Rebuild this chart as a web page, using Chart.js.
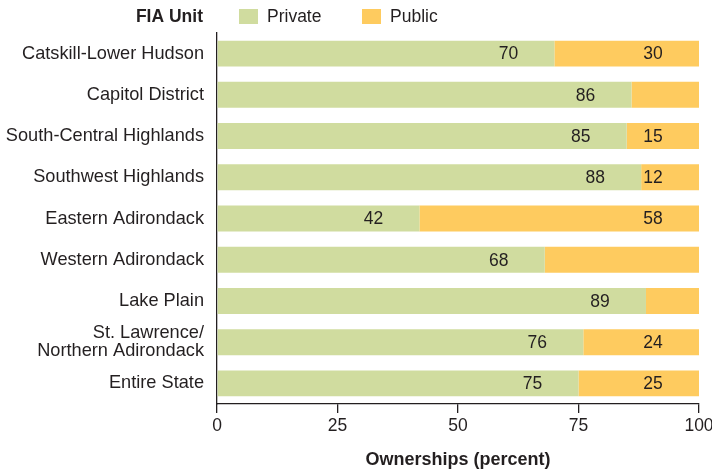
<!DOCTYPE html>
<html>
<head>
<meta charset="utf-8">
<script src="https://cdn.jsdelivr.net/npm/chart.js@4"></script>
<style>
  html, body { margin: 0; padding: 0; background: #ffffff; }
  #wrap { width: 712px; height: 475px; }
</style>
</head>
<body>
<div id="wrap"><canvas id="c" width="712" height="475"></canvas></div>
<script>
// Forest ownership by FIA unit (percent of ownerships)
const units = [
  'Catskill-Lower Hudson',
  'Capitol District',
  'South-Central Highlands',
  'Southwest Highlands',
  'Eastern Adirondack',
  'Western Adirondack',
  'Lake Plain',
  ['St. Lawrence/', 'Northern Adirondack'],
  'Entire State'
];
const privateShare = [70, 86, 85, 88, 42, 68, 89, 76, 75];
const publicShare  = [30, 14, 15, 12, 58, 32, 11, 24, 25];
// which bar segments carry a printed value
const privateLabeled = [true, true, true, true, true, true, true, true, true];
const publicLabeled  = [true, false, true, true, true, false, false, true, true];
const xTicks = [0, 25, 50, 75, 100];

const INK = '#231f20';
const FONT = '"Liberation Sans", Arial, Helvetica, sans-serif';

const valueLabels = {
  id: 'valueLabels',
  afterDatasetsDraw(chart) {
    const ctx = chart.ctx;
    ctx.save();
    ctx.font = '17.5px ' + FONT;
    ctx.fillStyle = INK;
    ctx.textAlign = 'center';
    ctx.textBaseline = 'middle';
    chart.data.datasets.forEach((ds, di) => {
      const meta = chart.getDatasetMeta(di);
      meta.data.forEach((bar, i) => {
        if (!ds.labeled[i]) return;
        ctx.fillText(String(ds.data[i]), bar.x - 46, bar.y + 1);
      });
    });
    ctx.restore();
  }
};

const header = {
  id: 'header',
  afterDraw(chart) {
    const ctx = chart.ctx;
    ctx.save();
    ctx.fillStyle = INK;
    ctx.textBaseline = 'middle';
    ctx.font = 'bold 17.5px ' + FONT;
    ctx.textAlign = 'right';
    ctx.fillText('FIA Unit', 203, 17);
    ctx.font = '17.5px ' + FONT;
    ctx.textAlign = 'left';
    const slots = [239, 362];
    chart.data.datasets.forEach((ds, di) => {
      const x = slots[di];
      ctx.fillStyle = ds.backgroundColor;
      ctx.fillRect(x, 9, 19, 15);
      ctx.fillStyle = INK;
      ctx.fillText(ds.label, x + 28, 17);
    });
    ctx.restore();
  }
};

new Chart(document.getElementById('c'), {
  type: 'bar',
  data: {
    labels: units,
    datasets: [
      { label: 'Private', data: privateShare, labeled: privateLabeled, backgroundColor: '#d0dc9f' },
      { label: 'Public',  data: publicShare,  labeled: publicLabeled,  backgroundColor: '#fecb5f' }
    ]
  },
  options: {
    indexAxis: 'y',
    responsive: false,
    animation: false,
    devicePixelRatio: 1,
    layout: { padding: { top: 33, right: 13, bottom: 0, left: 0 } },
    datasets: { bar: { categoryPercentage: 1, barPercentage: 0.63, borderWidth: 0 } },
    plugins: { legend: { display: false }, tooltip: { enabled: false } },
    scales: {
      x: {
        stacked: true,
        min: 0,
        max: 100,
        afterBuildTicks(scale) { scale.ticks = xTicks.map(v => ({ value: v })); },
        afterFit(scale) { scale.height = 71; scale.paddingLeft = 0; scale.paddingRight = 0; },
        grid: { display: true, drawOnChartArea: false, drawTicks: true, tickLength: 9, color: INK, lineWidth: 1.3 },
        border: { display: true, color: INK, width: 1.3 },
        ticks: { font: { family: FONT, size: 17.5 }, color: INK, padding: 3, maxRotation: 0 },
        title: { display: true, text: 'Ownerships (percent)', color: INK, font: { family: FONT, size: 18, weight: 'bold' }, padding: { top: 0, bottom: 4 } }
      },
      y: {
        stacked: true,
        afterFit(scale) { scale.width = 217; scale.paddingTop = 0; scale.paddingBottom = 0; },
        grid: { display: false, drawTicks: false },
        border: { display: true, color: INK, width: 1.3 },
        ticks: { font: { family: FONT, size: 18.2, lineHeight: 0.97 }, color: INK, padding: 13, autoSkip: false }
      }
    }
  },
  plugins: [valueLabels, header]
});
</script>
</body>
</html>
